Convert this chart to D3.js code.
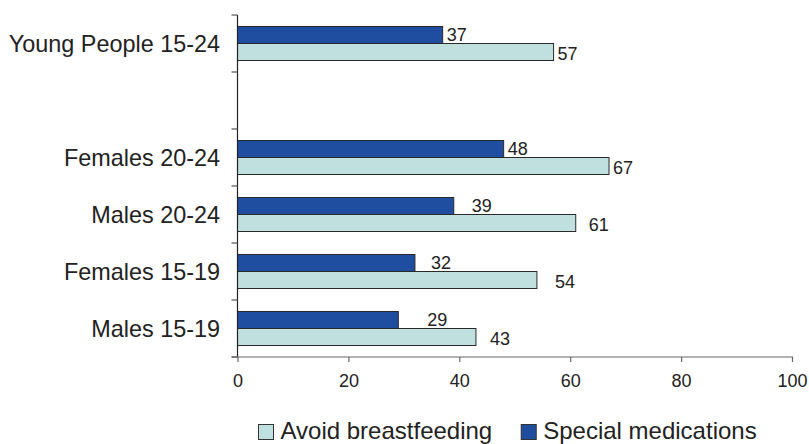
<!DOCTYPE html>
<html>
<head>
<meta charset="utf-8">
<script src="https://cdn.jsdelivr.net/npm/d3@7"></script>
<style>
  html, body { margin: 0; padding: 0; background: #fff; }
  svg { display: block; font-family: "Liberation Sans", Arial, Helvetica, sans-serif; }
</style>
</head>
<body>
<svg id="chart" width="809" height="444"></svg>
<script>
// ---- data ----
const categories = ["Young People 15-24", "", "Females 20-24", "Males 20-24", "Females 15-19", "Males 15-19"];
const seriesNames = ["Special medications", "Avoid breastfeeding"];
const specialMedications = [37, null, 48, 39, 32, 29];
const avoidBreastfeeding = [57, null, 67, 61, 54, 43];
const xTicks = [0, 20, 40, 60, 80, 100];
const legendOrder = ["Avoid breastfeeding", "Special medications"];

// label nudges (px) as placed in the original
const nudgeSpecial = [4, 0, 4, 18, 16, 29];
const nudgeAvoid = [4, 0, 4, 13, 18, 14];

const colors = { "Special medications": "#1f4ea1", "Avoid breastfeeding": "#bfe0de" };

const svg = d3.select("#chart");
const x = d3.scaleLinear().domain([0, 100]).range([237.5, 792]);
const y0 = d3.scaleBand().domain(categories).range([15, 357]).paddingInner(0).paddingOuter(0);
const y1 = d3.scaleBand().domain(seriesNames).range([0, y0.bandwidth()]).paddingInner(0).paddingOuter(0.676);

const rows = categories.map((c, i) => ({
  cat: c, i,
  values: [
    { s: "Special medications", v: specialMedications[i], nudge: nudgeSpecial[i], dy: 6 },
    { s: "Avoid breastfeeding", v: avoidBreastfeeding[i], nudge: nudgeAvoid[i], dy: 7.5 }
  ]
}));

// bars
const g = svg.append("g");
const rowG = g.selectAll("g.row").data(rows).join("g").attr("class", "row")
  .attr("transform", d => `translate(0,${y0(d.cat)})`);

rowG.selectAll("rect").data(d => d.values.filter(v => v.v != null)).join("rect")
  .attr("x", x(0))
  .attr("y", d => y1(d.s))
  .attr("width", d => x(d.v) - x(0))
  .attr("height", y1.bandwidth())
  .attr("fill", d => colors[d.s])
  .attr("stroke", "#2a2a2a")
  .attr("stroke-width", 1);

rowG.selectAll("text.val").data(d => d.values.filter(v => v.v != null)).join("text")
  .attr("class", "val")
  .attr("x", d => x(d.v) + d.nudge)
  .attr("y", d => y1(d.s) + y1.bandwidth() / 2 + d.dy)
  .attr("font-size", 18)
  .attr("fill", "#222")
  .text(d => d.v);

// category labels
svg.append("g").selectAll("text").data(categories.filter(c => c !== "")).join("text")
  .attr("x", 220)
  .attr("y", d => y0(d) + y0.bandwidth() / 2 + 8)
  .attr("text-anchor", "end")
  .attr("font-size", 23.4)
  .attr("fill", "#222")
  .text(d => d);

// y axis line and boundary ticks
const yStart = y0.range()[0], yEnd = y0.range()[1];
svg.append("line").attr("x1", x(0)).attr("x2", x(0)).attr("y1", yStart).attr("y2", yEnd)
  .attr("stroke", "#222").attr("stroke-width", 1.2);
const bounds = d3.range(categories.length + 1).map(k => yStart + k * y0.step());
svg.append("g").selectAll("line").data(bounds).join("line")
  .attr("x1", x(0) - 6).attr("x2", x(0))
  .attr("y1", d => d).attr("y2", d => d)
  .attr("stroke", "#555").attr("stroke-width", 1.2);

// x axis
const xAxis = d3.axisBottom(x).tickValues(xTicks).tickSize(5).tickPadding(12).tickSizeOuter(0);
const xg = svg.append("g").attr("transform", `translate(0,${yEnd})`).call(xAxis);
xg.select(".domain").attr("stroke", "#666").attr("stroke-width", 1.2)
  .attr("d", `M${x(0) - 6},0H${x(100) + 1}`);
xg.selectAll(".tick line").attr("stroke", "#666").attr("stroke-width", 1.2);
xg.selectAll(".tick text").attr("font-size", 18).attr("fill", "#222")
  .attr("font-family", "'Liberation Sans', Arial, sans-serif");

// legend
const lg = svg.append("g");
let lx = 258.5;
legendOrder.forEach((name, k) => {
  lg.append("rect").attr("x", lx).attr("y", 424.5).attr("width", 15).attr("height", 15)
    .attr("fill", colors[name]).attr("stroke", "#333").attr("stroke-width", 1);
  const t = lg.append("text").attr("x", lx + 22).attr("y", 438.5)
    .attr("font-size", 24).attr("fill", "#222").text(name);
  lx = lx + 22 + t.node().getComputedTextLength() + 29;
});
</script>
</body>
</html>
